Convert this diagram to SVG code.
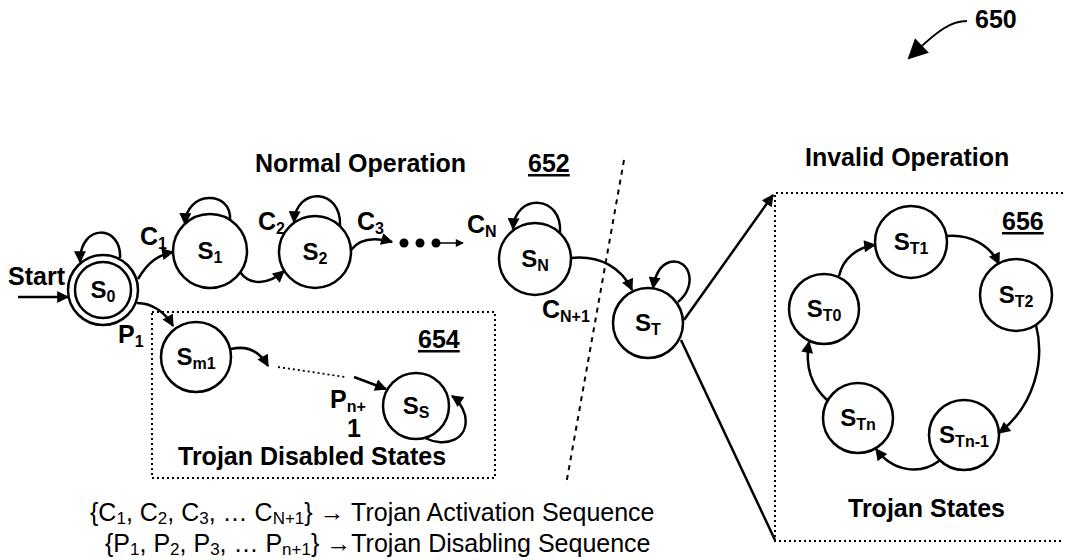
<svg xmlns="http://www.w3.org/2000/svg" width="1065" height="560" viewBox="0 0 1065 560">
<defs>
<marker id="ah" viewBox="0 0 10 10" refX="9" refY="5" markerWidth="15" markerHeight="12" markerUnits="userSpaceOnUse" orient="auto"><path d="M0,0 L10,5 L0,10 z" fill="#000"/></marker>
<marker id="ahs" viewBox="0 0 10 10" refX="9" refY="5" markerWidth="10" markerHeight="8" markerUnits="userSpaceOnUse" orient="auto"><path d="M0,0 L10,5 L0,10 z" fill="#000"/></marker>
<marker id="big" viewBox="0 0 10 10" refX="9" refY="5" markerWidth="24" markerHeight="20" markerUnits="userSpaceOnUse" orient="auto"><path d="M0,0 L10,5 L0,10 z" fill="#000"/></marker>
</defs>
<style>
.st{fill:#fff;stroke:#000;stroke-width:2.5}
.e{fill:none;stroke:#000;stroke-width:2.5}
.el{fill:none;stroke:#000;stroke-width:2.5;marker-end:url(#ah)}
.dot{fill:none;stroke:#000;stroke-width:2;stroke-dasharray:2 3}
.b{font-family:"Liberation Sans",Arial,sans-serif;font-weight:bold;font-size:25px;fill:#000}
.lab{font-family:"Liberation Sans",Arial,sans-serif;font-weight:bold;font-size:24px;fill:#000;text-anchor:middle}
.sub{font-size:16px}
.r{font-family:"Liberation Sans",Arial,sans-serif;font-size:25px;fill:#000}
.rs{font-size:17px}
</style>
<rect width="1065" height="560" fill="#fff"/>

<g id="regions">
<path class="dot" d="M152,312 H495 V478 H152 Z"/>
<path class="dot" d="M1063,193 H775 V541 H1063"/>
<line x1="624" y1="160" x2="566" y2="485" stroke="#000" stroke-width="2" stroke-dasharray="5 5"/>
</g>

<g id="connectors">
<line class="el" x1="18" y1="297" x2="68" y2="297"/>
<path class="el" d="M120,258 C122,225 80,222 80,262"/>
<path class="el" d="M138,279 C148,262 158,255 173,252"/>
<path class="el" d="M230,220 C232,190 186,190 185,224"/>
<path class="el" d="M240,272 C250,286 268,285 284,271"/>
<path class="el" d="M340,226 C342,188 296,186 294,222"/>
<path class="el" d="M351,250 C360,238 375,237 392,242"/>
<line x1="436" y1="243" x2="463" y2="243" stroke="#000" stroke-width="1.5" marker-end="url(#ahs)"/>
<path class="el" d="M560,233 C563,195 515,192 513,229"/>
<path class="el" d="M571,258 C600,255 622,268 632,290"/>
<path class="el" d="M678,302 C698,286 690,258 670,262 C660,265 655,275 653,288"/>
<line class="el" x1="684" y1="320" x2="773" y2="195"/>
<line class="e" x1="681" y1="340" x2="775" y2="540"/>
<path class="el" d="M137,303 C152,303 165,312 173,326"/>
<path class="el" d="M231,349 C248,345 260,352 268,366"/>
<line x1="278" y1="367" x2="345" y2="377" stroke="#000" stroke-width="1.8" stroke-dasharray="2 3"/>
<line class="el" x1="354" y1="377" x2="386" y2="389"/>
<path class="el" d="M425,438 C445,448 470,440 465,415 C462,405 458,400 452,396"/>
<path class="el" d="M839,276 C843,258 858,247 875,245"/>
<path class="el" d="M947,236 C970,234 990,245 999,264"/>
<path class="el" d="M1036,325 C1045,360 1035,405 999,433"/>
<path class="el" d="M939,461 C920,475 893,472 876,449"/>
<path class="el" d="M828,401 C810,385 805,365 809,342"/>
<path fill="none" stroke="#000" stroke-width="2" marker-end="url(#big)" d="M967,21 C952,21 940,28 909,58"/>
<circle cx="404" cy="243" r="4.5"/>
<circle cx="420" cy="243" r="4.5"/>
<circle cx="436" cy="243" r="4.5"/>
</g>

<g id="S0"><circle class="st" cx="103" cy="290" r="35"/><circle class="st" cx="103" cy="290" r="28"/><text class="lab" x="103" y="298">S<tspan class="sub" dy="4">0</tspan></text></g>
<g id="S1"><circle class="st" cx="210" cy="251" r="37"/><text class="lab" x="210" y="259">S<tspan class="sub" dy="4">1</tspan></text></g>
<g id="S2"><circle class="st" cx="315" cy="252" r="36"/><text class="lab" x="315" y="260">S<tspan class="sub" dy="4">2</tspan></text></g>
<g id="SN"><circle class="st" cx="535" cy="259" r="36"/><text class="lab" x="535" y="267">S<tspan class="sub" dy="4">N</tspan></text></g>
<g id="ST"><circle class="st" cx="648" cy="323" r="35"/><text class="lab" x="648" y="331">S<tspan class="sub" dy="4">T</tspan></text></g>
<g id="Sm1"><circle class="st" cx="196" cy="357" r="35"/><text class="lab" x="196" y="365">S<tspan class="sub" dy="4">m1</tspan></text></g>
<g id="SS"><circle class="st" cx="416" cy="406" r="33"/><text class="lab" x="416" y="414">S<tspan class="sub" dy="4">S</tspan></text></g>
<g id="ST0"><circle class="st" cx="824" cy="309" r="35"/><text class="lab" x="824" y="317">S<tspan class="sub" dy="4">T0</tspan></text></g>
<g id="ST1"><circle class="st" cx="911" cy="242" r="36"/><text class="lab" x="911" y="250">S<tspan class="sub" dy="4">T1</tspan></text></g>
<g id="ST2"><circle class="st" cx="1016" cy="295" r="36"/><text class="lab" x="1016" y="303">S<tspan class="sub" dy="4">T2</tspan></text></g>
<g id="STn1"><circle class="st" cx="964" cy="435" r="35"/><text class="lab" x="964" y="443">S<tspan class="sub" dy="4">Tn-1</tspan></text></g>
<g id="STn"><circle class="st" cx="858" cy="418" r="35"/><text class="lab" x="858" y="426">S<tspan class="sub" dy="4">Tn</tspan></text></g>

<g id="labels">
<text class="b" x="8" y="285">Start</text>
<text class="b" x="140" y="245" font-size="24">C<tspan class="sub" dy="4">1</tspan></text>
<text class="b" x="258" y="230" font-size="24">C<tspan class="sub" dy="4">2</tspan></text>
<text class="b" x="357" y="230" font-size="24">C<tspan class="sub" dy="4">3</tspan></text>
<text class="b" x="467" y="233" font-size="24">C<tspan class="sub" dy="4">N</tspan></text>
<text class="b" x="542" y="318" font-size="24">C<tspan class="sub" dy="4">N+1</tspan></text>
<text class="b" x="118" y="343" font-size="24">P<tspan class="sub" dy="4">1</tspan></text>
<text class="b" x="330" y="408" font-size="24">P<tspan class="sub" dy="4">n+</tspan></text>
<text class="b" x="347" y="437" font-size="14">1</text>
<text class="b" x="178" y="465">Trojan Disabled States</text>
<text class="b" x="255" y="172">Normal Operation</text>
<text class="b" x="805" y="166">Invalid Operation</text>
<text class="b" x="848" y="517">Trojan States</text>
<text class="b" x="528" y="172" text-decoration="underline">652</text>
<text class="b" x="418" y="348" text-decoration="underline">654</text>
<text class="b" x="1002" y="230" text-decoration="underline">656</text>
<text class="b" x="975" y="28">650</text>
<text class="r" x="90" y="521">{C<tspan class="rs" dy="3">1</tspan><tspan dy="-3">, C</tspan><tspan class="rs" dy="3">2</tspan><tspan dy="-3">, C</tspan><tspan class="rs" dy="3">3</tspan><tspan dy="-3">, … C</tspan><tspan class="rs" dy="3">N+1</tspan><tspan dy="-3">} →  Trojan Activation Sequence</tspan></text>
<text class="r" x="105" y="552">{P<tspan class="rs" dy="3">1</tspan><tspan dy="-3">, P</tspan><tspan class="rs" dy="3">2</tspan><tspan dy="-3">, P</tspan><tspan class="rs" dy="3">3</tspan><tspan dy="-3">, … P</tspan><tspan class="rs" dy="3">n+1</tspan><tspan dy="-3">} →Trojan Disabling Sequence</tspan></text>
</g>
</svg>
